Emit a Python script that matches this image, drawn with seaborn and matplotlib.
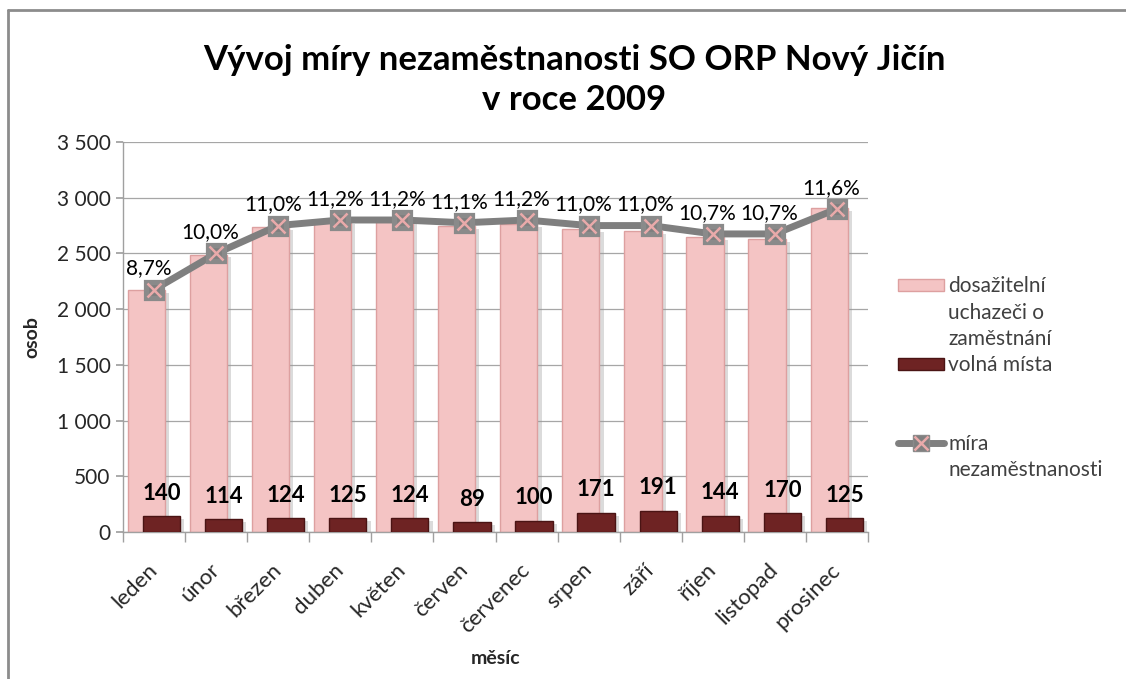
import numpy as np
import pandas as pd
import matplotlib
matplotlib.use("Agg")
import matplotlib.pyplot as plt
import matplotlib.patheffects as pe
import matplotlib.transforms as mtrans
import seaborn as sns
from matplotlib.patches import Patch
from matplotlib.lines import Line2D
from matplotlib.legend_handler import HandlerTuple
from matplotlib.ticker import FuncFormatter, MultipleLocator, FixedLocator

# Data
months = ["leden", "únor", "březen", "duben", "květen", "červen",
          "červenec", "srpen", "září", "říjen", "listopad", "prosinec"]
uchazeci = [2170, 2490, 2735, 2790, 2790, 2745, 2760, 2715, 2700, 2645, 2630, 2905]
volna_mista = [140, 114, 124, 125, 124, 89, 100, 171, 191, 144, 170, 125]
mira = [8.7, 10.0, 11.0, 11.2, 11.2, 11.1, 11.2, 11.0, 11.0, 10.7, 10.7, 11.6]

df = pd.DataFrame({"mesic": months, "uchazeci": uchazeci,
                   "volna": volna_mista, "mira": mira})

pink = "#F4C4C4"
pink_edge = "#DDA0A0"
dark = "#6E2323"
gray_line = "#7F7F7F"
txt = "#262626"

sns.set_theme(style="white")
plt.rcParams['font.family'] = ['Lato', 'DejaVu Sans']

fig = plt.figure(figsize=(11.26, 6.79), dpi=100)
ax = fig.add_axes([123 / 1126, 1 - 532 / 679, 745 / 1126, 390 / 679])

shadow = [pe.SimplePatchShadow(offset=(3, -2), shadow_rgbFace="#9a9a9a", alpha=0.35), pe.Normal()]

# pink bars (job seekers)
sns.barplot(data=df, x="mesic", y="uchazeci", color=pink, saturation=1, width=0.6,
            edgecolor=pink_edge, linewidth=1, errorbar=None, ax=ax, zorder=2)
n = len(ax.patches)
for p in ax.patches:
    p.set_x(p.get_x() - 0.125)
    p.set_path_effects(shadow)

# dark bars (vacancies)
sns.barplot(data=df, x="mesic", y="volna", color=dark, saturation=1, width=0.6,
            edgecolor="#4A1414", linewidth=1, errorbar=None, ax=ax, zorder=3)
for p in ax.patches[n:]:
    p.set_x(p.get_x() + 0.12)
    p.set_path_effects(shadow)

for i, v in enumerate(volna_mista):
    ax.annotate(str(v), (i + 0.12, v), xytext=(0, 9), textcoords="offset points",
                ha="center", va="bottom", fontsize=16, fontweight="bold", color="black")

ax.set_ylim(0, 3500)
ax.yaxis.set_major_locator(MultipleLocator(500))
ax.yaxis.set_major_formatter(FuncFormatter(lambda v, _: f"{int(v):,}".replace(",", " ")))
ax.yaxis.grid(True, color="#A6A6A6", linewidth=0.9)
ax.xaxis.grid(False)
ax.set_axisbelow(True)
for s in ["top", "right"]:
    ax.spines[s].set_visible(False)
for s in ["left", "bottom"]:
    ax.spines[s].set_color("#A0A0A0")
    ax.spines[s].set_linewidth(1)

ax.set_xlim(-0.5, len(months) - 0.5)
ax.set_xticks(range(len(months)))
ax.set_xticklabels(months, rotation=45, ha="right", va="center", rotation_mode="anchor",
                   fontsize=16, color=txt)
shift = mtrans.ScaledTranslation(7 / 72, 0, fig.dpi_scale_trans)
for lab in ax.get_xticklabels():
    lab.set_transform(lab.get_transform() + shift)
ax.xaxis.set_minor_locator(FixedLocator(np.arange(-0.5, len(months), 1)))
ax.tick_params(axis="x", which="major", length=0, pad=25)
ax.tick_params(axis="x", which="minor", bottom=True, length=7, color="#A0A0A0")
ax.tick_params(axis="y", left=True, length=5, color="#A0A0A0", labelsize=15, labelcolor=txt, pad=4)

ax.set_xlabel("měsíc", fontsize=14, fontweight="bold", color=txt)
ax.set_ylabel("osob", fontsize=14, fontweight="bold", color=txt)
ax.xaxis.set_label_coords(0.5, -0.303)
ax.yaxis.set_label_coords(-0.111, 0.5)

# unemployment rate on a hidden secondary axis
ax2 = ax.twinx()
sns.pointplot(data=df, x="mesic", y="mira", color=gray_line, markers="s",
              markersize=11, linewidth=5, markeredgecolor="#8a8a8a", ax=ax2, zorder=5)
sns.pointplot(data=df, x="mesic", y="mira", color="#E9AAAA", markers="x",
              linestyles="none", markersize=10, markeredgewidth=1.8, ax=ax2, zorder=6)
ax2.set_ylim(0, 14)
ax2.set_yticks([])
ax2.set_ylabel("")
for s in ax2.spines.values():
    s.set_visible(False)
for i, v in enumerate(mira):
    ax2.annotate(f"{v:.1f}%".replace(".", ","), (i, v), xytext=(-4, 8),
                 textcoords="offset points", ha="center", va="bottom",
                 fontsize=15, color="black")

# title
fig.text(574 / 1126, 1 - 80 / 679, "Vývoj míry nezaměstnanosti SO ORP Nový Jičín\nv roce 2009",
         ha="center", va="center", fontsize=25, fontweight="bold", color="black", linespacing=1.3)

# legend: one row per text line so the keys sit on the first line like in Excel
blank = Patch(visible=False)
rate_handle = (Line2D([], [], color=gray_line, linewidth=5, marker="s", markersize=11,
                      markeredgecolor="#8a8a8a"),
               Line2D([], [], color="#E9AAAA", linestyle="none", marker="x", markersize=10,
                      markeredgewidth=1.8))
handles = [Patch(facecolor=pink, edgecolor=pink_edge), blank, blank,
           Patch(facecolor=dark, edgecolor="#4A1414"), blank, blank,
           rate_handle, blank]
labels = ["dosažitelní", "uchazeči o", "zaměstnání", "volná místa", " ", " ",
          "míra", "nezaměstnanosti"]
fig.legend(handles, labels, loc="upper left", bbox_to_anchor=(888 / 1126, 1 - 266 / 679),
           frameon=False, fontsize=15, labelcolor="#404040", handlelength=2.2, handleheight=0.5,
           handletextpad=0.2, labelspacing=0.3, borderpad=0,
           handler_map={tuple: HandlerTuple(ndivide=1, pad=0)})

# chart frame (top and left edges only show in the picture)
fig.add_artist(Line2D([8 / 1126, 1], [1 - 10 / 679, 1 - 10 / 679], transform=fig.transFigure,
                      color="#8C8C8C", linewidth=2))
fig.add_artist(Line2D([8 / 1126, 8 / 1126], [0, 1 - 10 / 679], transform=fig.transFigure,
                      color="#8C8C8C", linewidth=2))

fig.savefig("out.png", dpi=100)
